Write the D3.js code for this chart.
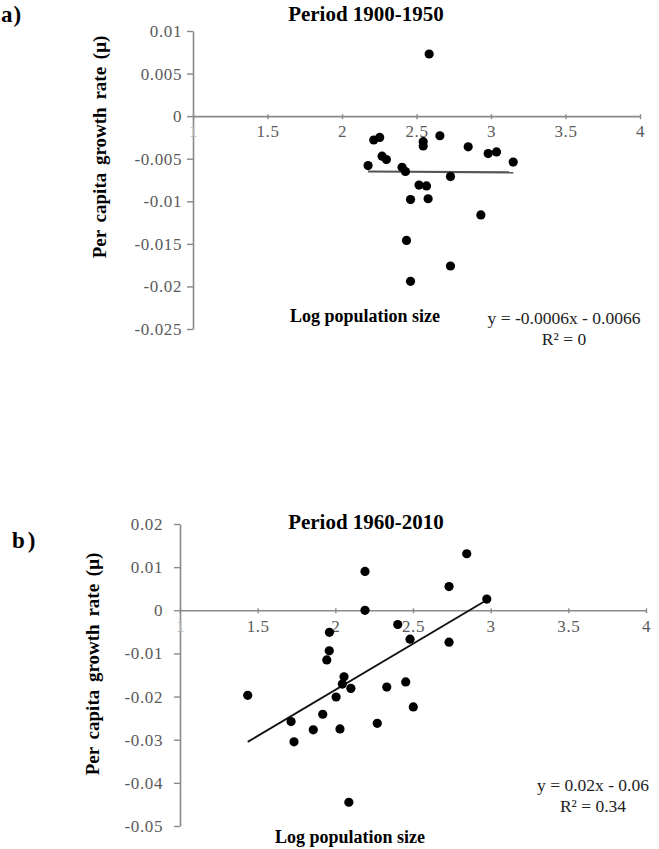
<!DOCTYPE html>
<html><head><meta charset="utf-8">
<script src="https://cdn.jsdelivr.net/npm/d3@7"></script>
<style>body{margin:0;background:#fff}svg{display:block}
.tick text{font-family:'Liberation Serif','Times New Roman',serif !important;}
</style>
</head><body>
<svg id="c" width="659" height="849"></svg>
<script>
// ---------- Data: panel a) Period 1900-1950 ----------
const logSizeA = [2.175, 2.213, 2.253, 2.269, 2.298, 2.403, 2.426, 2.46, 2.433, 2.46,
                  2.545, 2.545, 2.657, 2.517, 2.567, 2.578, 2.728, 2.728, 2.847, 2.932,
                  2.981, 3.037, 3.149, 2.585];
const growthA = [-0.0058, -0.0028, -0.0025, -0.0047, -0.0051, -0.0060, -0.0065, -0.0098, -0.0146, -0.0194,
                 -0.0030, -0.0035, -0.0023, -0.0081, -0.0082, -0.0097, -0.0071, -0.0176, -0.0036, -0.0116,
                 -0.0044, -0.0042, -0.0054, 0.0073];
const trendXA = [2.175, 3.15];
const trendYA = [-0.0065, -0.0066];
const xTicksA = [1, 1.5, 2, 2.5, 3, 3.5, 4];
const yTicksA = [0.01, 0.005, 0, -0.005, -0.01, -0.015, -0.02, -0.025];

// ---------- Data: panel b) Period 1960-2010 ----------
const logSizeB = [2.191, 2.191, 2.846, 2.732, 2.975, 2.402, 2.481, 2.732, 1.962, 1.961,
                  1.945, 1.436, 1.715, 1.734, 1.858, 1.919, 2.005, 2.030, 2.056, 2.045,
                  2.100, 2.087, 2.270, 2.331, 2.453, 2.502];
const growthB = [0.0090, 0.0000, 0.0131, 0.0055, 0.0026, -0.0033, -0.0067, -0.0074, -0.0051, -0.0094,
                 -0.0115, -0.0197, -0.0258, -0.0305, -0.0277, -0.0241, -0.0201, -0.0275, -0.0154, -0.0171,
                 -0.0181, -0.0445, -0.0262, -0.0178, -0.0166, -0.0224];
const trendXB = [1.436, 2.975];
const trendYB = [-0.0305, 0.0024];
const xTicksB = [1, 1.5, 2, 2.5, 3, 3.5, 4];
const yTicksB = [0.02, 0.01, 0, -0.01, -0.02, -0.03, -0.04, -0.05];

const svg = d3.select('#c');
const SERIF = "'Liberation Serif','Times New Roman',serif";
const AXIS = '#8a8a8a', TICKTXT = '#5a5a5a';

function panel(cfg) {
  const x = d3.scaleLinear().domain([cfg.xTicks[0], cfg.xTicks[cfg.xTicks.length-1]]).range([cfg.left, cfg.right]);
  const yExt = d3.extent(cfg.yTicks);
  const y = d3.scaleLinear().domain(yExt).range([cfg.bottom, cfg.top]);

  // y axis
  const gy = svg.append('g').attr('transform', `translate(${cfg.left},0)`)
    .call(d3.axisLeft(y).tickValues(cfg.yTicks).tickSizeInner(6).tickSizeOuter(0)
      .tickPadding(cfg.yPad).tickFormat(d => String(d)));
  // x axis through zero
  const gx = svg.append('g').attr('transform', `translate(0,${y(0)})`)
    .call(d3.axisBottom(x).tickValues(cfg.xTicks).tickSizeInner(3).tickSizeOuter(0)
      .tickPadding(cfg.xPad).tickFormat(d => String(d)));
  gx.selectAll('.tick line').attr('y1', -2);
  [gx, gy].forEach(g => {
    g.attr('font-family', SERIF).attr('font-size', 17);
    g.select('.domain').attr('stroke', AXIS).attr('stroke-width', 1.6);
    g.selectAll('.tick line').attr('stroke', AXIS).attr('stroke-width', 1.4);
    g.selectAll('.tick text').attr('fill', TICKTXT).attr('font-family', SERIF)
      .attr('font-size', 17).style('letter-spacing', '0.6px');
  });
  gx.selectAll('.tick text').filter(d => d === cfg.xTicks[0]).attr('fill', '#b0b0b0');

  // trend line
  const pts = cfg.tx.map((v, i) => [v, cfg.ty[i]]);
  svg.append('path').datum(pts)
    .attr('d', d3.line().x(d => x(d[0])).y(d => y(d[1])))
    .attr('stroke', cfg.trendColor).attr('stroke-width', cfg.trendWidth).attr('fill', 'none');

  // points
  svg.append('g').selectAll('circle').data(cfg.xs.map((v, i) => [v, cfg.ys[i]])).join('circle')
    .attr('cx', d => x(d[0])).attr('cy', d => y(d[1])).attr('r', 4.6).attr('fill', '#000');

  const txt = (s, px, py, size, weight, anchor, fill) => svg.append('text')
    .attr('x', px).attr('y', py).attr('text-anchor', anchor || 'middle')
    .style('font-family', SERIF).style('font-size', size + 'px').style('font-weight', weight)
    .attr('fill', fill || '#000').text(s);

  txt(cfg.tag, cfg.tagX, cfg.tagY, 23, 'bold', 'start').style('letter-spacing', cfg.tagSpacing);
  txt(cfg.title, cfg.titleX, cfg.titleY, 21, 'bold');
  txt('Log population size', cfg.xlabX, cfg.xlabY, 18, 'bold');
  txt(cfg.eq, cfg.eqX, cfg.eqY, 17.5, 'normal', 'middle', '#222');
  txt(cfg.r2, cfg.eqX, cfg.eqY + 21, 17.5, 'normal', 'middle', '#222');
  svg.append('text').attr('transform', `translate(${cfg.ylabX},${cfg.ylabY}) rotate(-90)`)
    .attr('text-anchor', 'middle').style('font-family', SERIF).style('font-size', '19px')
    .style('font-weight', 'bold').style('word-spacing', '3px').text('Per capita growth rate (\u03bc)');
}

panel({
  xs: logSizeA, ys: growthA, tx: trendXA, ty: trendYA, xTicks: xTicksA, yTicks: yTicksA,
  left: 193, right: 640, top: 31, bottom: 329, yPad: 5, xPad: 6,
  trendColor: '#555', trendWidth: 2.2,
  tag: 'a)', tagX: 1, tagY: 22, tagSpacing: '1px',
  title: 'Period 1900-1950', titleX: 366, titleY: 21,
  xlabX: 365, xlabY: 322,
  eq: 'y = -0.0006x - 0.0066', r2: 'R\u00b2 = 0', eqX: 564, eqY: 324,
  ylabX: 106, ylabY: 147
});

panel({
  xs: logSizeB, ys: growthB, tx: trendXB, ty: trendYB, xTicks: xTicksB, yTicks: yTicksB,
  left: 180, right: 646, top: 524, bottom: 826, yPad: 11, xPad: 7,
  trendColor: '#111', trendWidth: 1.8,
  tag: 'b)', tagX: 12, tagY: 548, tagSpacing: '3px',
  title: 'Period 1960-2010', titleX: 366, titleY: 529,
  xlabX: 350, xlabY: 843,
  eq: 'y = 0.02x - 0.06', r2: 'R\u00b2 = 0.34', eqX: 593, eqY: 791,
  ylabX: 99, ylabY: 664
});
</script>
</body></html>
